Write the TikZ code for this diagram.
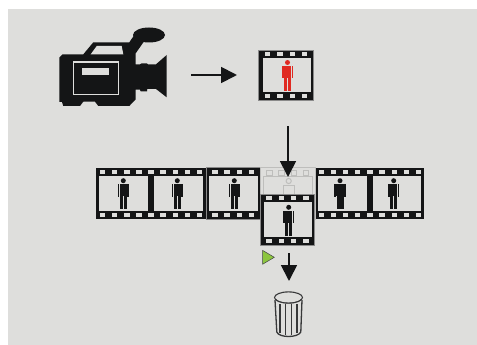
\documentclass[tikz,border=0pt]{standalone}
\usepackage{tikz}
\usetikzlibrary{arrows.meta}

\definecolor{panelgray}{HTML}{DEDEDC}
\definecolor{filmblack}{HTML}{141516}
\definecolor{fadegray}{HTML}{BEBEBC}
\definecolor{edgegray}{HTML}{8A8A8A}
\definecolor{manred}{HTML}{E02A22}
\definecolor{playgreen}{HTML}{8CC63F}

\tikzset{
    bigarrow/.style={-{Triangle[length=16pt,width=16pt]}, line width=1.8pt, color=filmblack},
    binline/.style={draw=filmblack!85, line width=1.1pt},
    fadeline/.style={draw=fadegray, line width=1pt},
    frameedge/.style={draw=edgegray, line width=0.5pt},
}

% #1 centre x, #2 head y, #3 colour
\newcommand{\manfigure}[3]{
    \fill[#3] (#1,#2) circle (2.5);
    \fill[#3] (#1-3.6,#2+3.3) rectangle (#1+3.6,#2+15.5);
    \fill[#3] (#1-5.6,#2+3.7) rectangle (#1-4,#2+16);
    \fill[#3] (#1+4,#2+3.7) rectangle (#1+5.6,#2+16);
    \fill[#3] (#1-3.5,#2+15) rectangle (#1-0.3,#2+28.3);
    \fill[#3] (#1+0.3,#2+15) rectangle (#1+3.5,#2+28.3);
}

% #1 left, #2 right, #3 top, #4 hole centres, #5 window left edges
\newcommand{\filmstrip}[5]{
    \fill[filmblack] (#1,#3) rectangle (#2,#3+50.6);
    \foreach \holex in {#4} {
        \fill[panelgray] (\holex-2.7,#3+1.9) rectangle (\holex+2.7,#3+6);
        \fill[panelgray] (\holex-2.7,#3+44.2) rectangle (\holex+2.7,#3+48.3);
    }
    \foreach \winx in {#5} {
        \fill[panelgray] (\winx,#3+8) rectangle (\winx+48.3,#3+42.3);
    }
}

\begin{document}
\begin{tikzpicture}[x=1pt, y=-1pt]
    \useasboundingbox (0,0) rectangle (477,345);
    \fill[panelgray] (8,9) rectangle (477,345);

    % camera
    \fill[filmblack] (149,35) ellipse (16 and 7.5);
    \fill[filmblack] (59.3,57.5) -- (62.7,54.3) -- (83.3,54.3) -- (93.3,42.3) -- (129.3,42.3)
        -- (135,34) -- (145,40) -- (135.7,53.3) -- (135.7,64.3) -- (140,64.3) -- (141.7,63.3)
        -- (146.7,63.3) -- (148,64.3) -- (156,64.3) -- (166.7,55) -- (166.7,97.3) -- (156,89)
        -- (147.3,89) -- (147,91.3) -- (140.7,91.3) -- (140,89.7) -- (135.7,89.7) -- (135.7,99.3)
        -- (129.3,106) -- (98.3,106) -- (95,101.7) -- (83.3,101.7) -- (80,106) -- (63.3,106)
        -- (62,102) -- (59.3,102) -- cycle;
    \fill[panelgray] (90.7,54.3) -- (96.7,46) -- (121.7,46) -- (123.3,54.3) -- cycle;
    \draw[panelgray, line width=1.3pt] (73.8,62) rectangle (118.6,94.6);
    \fill[panelgray] (82,68) rectangle (109.3,74.7);
    \coordinate (camout) at (191,75);

    % captured frame
    \filmstrip{258.7}{313}{50}{267.7,280,292.5,304.7}{262.5}
    \draw[frameedge] (258.7,50) rectangle (313,100.6);
    \manfigure{287.5}{62.5}{manred}
    \coordinate (framein) at (237,75);
    \coordinate (frameout) at (288,126);

    % strip
    \filmstrip{96}{150.7}{168.3}{102.5,114.7,127,139}{99.4}
    \filmstrip{150.7}{206}{168.3}{151,163,175.5,187.7,199.7}{154.2}
    \filmstrip{206}{260.3}{168.3}{215,227,239.5,251.5}{209.2}
    \draw[frameedge] (206,167.6) rectangle (260.3,218.9);
    \filmstrip{315}{424.3}{168.3}{321.2,333.3,345.7,357.7,370,382,394.3,406.3,418.3}{318.2,373.1}
    \manfigure{123.3}{180.7}{filmblack}
    \manfigure{177.3}{180.7}{filmblack}
    \manfigure{234.3}{180.7}{filmblack}
    \manfigure{340}{180.7}{filmblack}
    \manfigure{393.7}{180.7}{filmblack}

    % faded frame
    \draw[fadeline] (260.3,167.4) rectangle (315,219);
    \draw[fadeline] (263.5,176.3) rectangle (312,211);
    \foreach \holex in {269.3,281.5,293.7,306} {
        \draw[fadeline] (\holex-2.7,170.5) rectangle (\holex+2.7,175);
        \draw[fadeline] (\holex-2.7,212.3) rectangle (\holex+2.7,216.8);
    }
    \draw[fadeline] (288.7,181) circle (2.6);
    \draw[fadeline] (283.4,196) -- (283.4,185) -- (294,185) -- (294,196);

    % front frame
    \filmstrip{260.7}{314.3}{194.3}{269,281.3,293.7,306}{263.7}
    \draw[frameedge] (260.7,194.3) rectangle (314.3,245);
    \manfigure{288.7}{207.3}{filmblack}

    % arrows
    \coordinate (stripin) at (288,177);
    \coordinate (binout) at (289,253);
    \coordinate (binin) at (289,281);
    \draw[bigarrow] (camout) -- (framein);
    \draw[bigarrow] (frameout) -- (stripin);
    \draw[bigarrow] (binout) -- (binin);

    % play mark
    \fill[playgreen, draw=filmblack!80, line width=0.5pt] (262.5,250.3) -- (274.3,257.3) -- (262.5,264.3) -- cycle;

    % trash bin
    \draw[binline, line width=1.3pt] (275,300) -- (276.8,332) .. controls (279,338) and (298,338) .. (300.8,332) -- (302,300);
    \draw[binline, fill=panelgray] (288.5,297.5) ellipse (14 and 5.6);
    \draw[binline, line width=0.7pt] (275.5,299) .. controls (279,304.5) and (298,304.5) .. (301.5,299);
    \foreach \ribx/\ribbot in {280/333, 285.5/335, 291.5/335, 297/333} {
        \draw[binline] (\ribx,304) -- (\ribx,\ribbot);
    }
\end{tikzpicture}
\end{document}
